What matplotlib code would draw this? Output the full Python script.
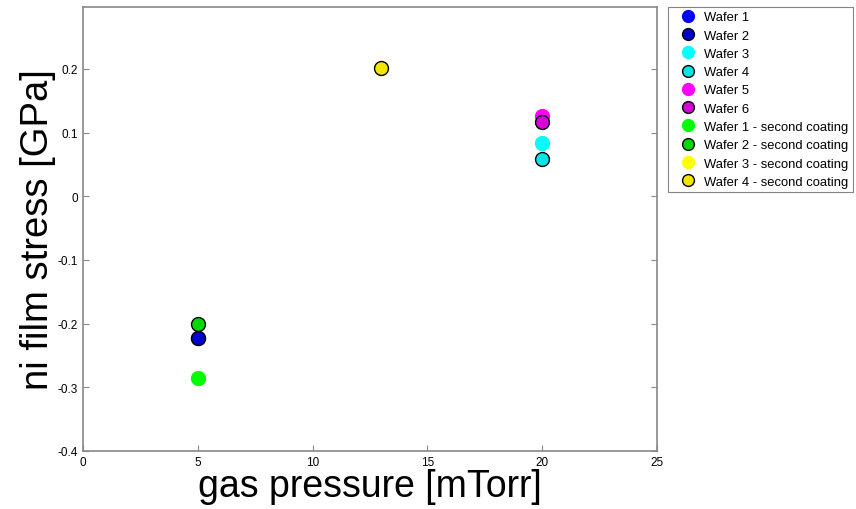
import matplotlib.pyplot as plt

plt.rcParams['font.family'] = ['Liberation Sans', 'DejaVu Sans']

# data
labels = ["Wafer 1", "Wafer 2", "Wafer 3", "Wafer 4", "Wafer 5", "Wafer 6",
          "Wafer 1 - second coating", "Wafer 2 - second coating",
          "Wafer 3 - second coating", "Wafer 4 - second coating"]
pressure = [5, 5, 20, 20, 20, 20, 5, 5, 13, 13]
stress = [-0.222, -0.222, 0.083, 0.058, 0.126, 0.116, -0.286, -0.201, 0.202, 0.202]
face_colors = ["#0000ff", "#0000cc", "#00ffff", "#00e6e6", "#ff00ff", "#d900d9",
               "#00ff00", "#00d900", "#ffff00", "#f2e600"]
edged = [False, True, False, True, False, True, False, True, False, True]

x_ticks = [0, 5, 10, 15, 20, 25]
y_ticks = [-0.4, -0.3, -0.2, -0.1, 0, 0.1, 0.2]
y_tick_labels = ["-0.4", "-0.3", "-0.2", "-0.1", "0", "0.1", "0.2"]

fig = plt.figure(figsize=(8.56, 5.10), dpi=100)
ax = fig.add_axes([0.097, 0.114, 0.6705, 0.87])

handles = []
for lab, x, y, fc, e in zip(labels, pressure, stress, face_colors, edged):
    ec = "black" if e else fc
    h, = ax.plot([x], [y], linestyle="none", marker="o", markersize=10,
                 markerfacecolor=fc, markeredgecolor=ec, markeredgewidth=1.0,
                 label=lab)
    handles.append(h)

ax.set_xlim(0, 25)
ax.set_ylim(-0.4, 0.297)
ax.set_xticks(x_ticks)
ax.set_yticks(y_ticks)
ax.set_yticklabels(y_tick_labels)
ax.tick_params(direction="in", length=4, width=0.8, color="#888888", labelsize=8.5,
               top=False, right=True)
for s in ax.spines.values():
    s.set_color("#888888")
    s.set_linewidth(1.2)

ax.set_xlabel("gas pressure [mTorr]", fontsize=27, labelpad=0)
ax.set_ylabel("ni film stress [GPa]", fontsize=27.5, labelpad=1)

# legend sits to the right, close to the figure edge as in the original
leg = fig.legend(handles=handles, loc="upper left", bbox_to_anchor=(0.7805, 0.985),
                 fontsize=9.4, frameon=True, fancybox=False, edgecolor="#666666",
                 borderpad=0.35, labelspacing=0.47, handlelength=2.3,
                 handletextpad=0.1, borderaxespad=0, markerscale=0.85)
leg.get_frame().set_linewidth(0.8)

fig.savefig("out.png", dpi=100)
